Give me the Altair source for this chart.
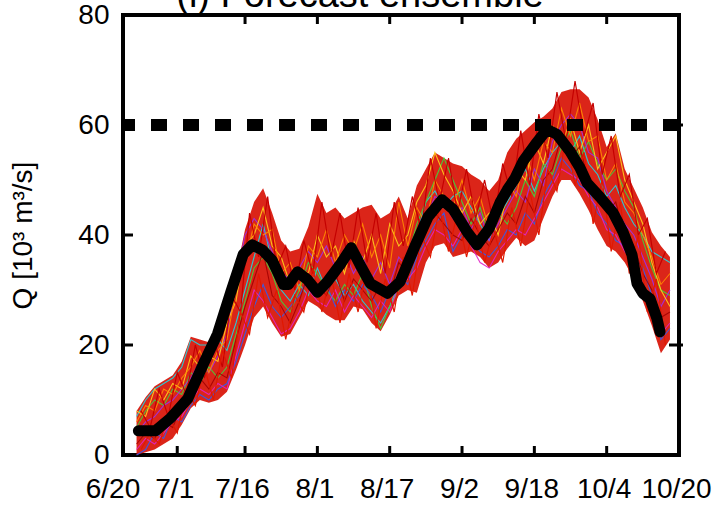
import altair as alt
import pandas as pd

FONT = "Liberation Sans"

# ---------------- data ----------------
# x axis: days after 6/20
tick_days = [0, 11, 26, 42, 58, 74, 90, 106, 122]
tick_labels = ["6/20", "7/1", "7/16", "8/1", "8/17", "9/2", "9/18", "10/4", "10/20"]
y_tick_values = [0, 20, 40, 60, 80]
inner_y_ticks = [20, 40, 60]
threshold_q = [60]
title_text = "(i) Forecast ensemble"
y_title = "Q [10\u00b3 m\u00b3/s]"

# observed discharge (thick black line)
obs_days = [2.4, 6.2, 9.5, 13.3, 16.8, 19.9, 22.8, 25.6, 27.6, 29.8, 32.0, 34.5, 35.6,
            37.6, 39.8, 42.0, 44.2, 47.1, 49.5, 51.5, 53.7, 57.5, 60.3, 63.6, 66.5,
            69.6, 72.0, 75.1, 77.3, 80.0, 82.4, 84.0, 85.7, 87.5, 90.6, 92.8, 95.0,
            97.9, 100.1, 101.7, 104.5, 107.4, 109.6, 111.6, 112.7, 114.0, 115.6,
            117.1, 117.8]
obs_q = [4.4, 4.4, 6.7, 10.2, 16.6, 22.0, 29.5, 36.5, 38.2, 37.3, 35.4, 31.0, 31.0,
         33.3, 31.9, 29.6, 31.5, 34.7, 37.7, 34.5, 31.2, 29.4, 31.5, 38.0, 43.3,
         46.4, 44.7, 40.6, 38.2, 41.2, 45.9, 48.2, 50.3, 53.4, 56.9, 59.2, 58.3,
         55.2, 52.2, 49.4, 46.9, 44.1, 40.6, 36.4, 31.2, 29.4, 28.4, 24.9, 22.4]

# forecast ensemble spread (sampled every 2 days)
ens_days = list(range(2, 122, 2))
ens_lower = [0, 0.5, 1, 2, 3, 5.5, 8.5, 10, 9.5, 10,
             11.5, 15.5, 20, 25, 27, 24, 21.5, 22, 25, 28,
             27, 25.5, 24.5, 24.5, 27, 26.5, 24, 22.5, 25.5, 29,
             30, 29.5, 35, 38, 38.5, 36, 36.5, 37, 36, 34,
             35, 37.5, 39.5, 38, 39, 43, 47, 50, 50, 47.5,
             44.5, 41, 38, 37, 35, 32, 28, 23.5, 18.5, 21]
ens_upper = [8, 10.5, 12.5, 13.5, 14.5, 17, 21.5, 21, 20.5, 22,
             27, 33, 41, 46, 48.5, 44, 39, 37, 37.5, 41.5,
             47.5, 44, 45, 43, 44, 45, 45.5, 43, 44, 47,
             43, 49, 52, 55, 54, 53, 52.5, 51, 50, 48,
             50, 55, 57.5, 59, 60.5, 61.5, 63, 66, 66.5, 66.5,
             65, 61, 56, 58.5, 52, 48.5, 45, 40.5, 38, 36]

# individual members (every 2 days)
member_orange = [6, 9, 8, 12, 11, 14, 16, 19, 15, 19,
                 21, 30, 35, 42, 40, 41, 33, 35, 30, 38,
                 36, 41, 35, 40, 37, 42, 36, 40, 34, 46,
                 38, 45, 42, 50, 47, 45, 50, 44, 47, 41,
                 46, 50, 47, 55, 50, 57, 55, 63, 58, 64,
                 57, 58, 50, 53, 46, 44, 40, 36, 31, 33]
member_yellow = [8, 7, 12, 10, 13, 12, 18, 16, 18, 17,
                 24, 28, 38, 40, 45, 38, 36, 31, 34, 33,
                 40, 36, 38, 33, 39, 35, 40, 33, 42, 38,
                 40, 46, 49, 55, 51, 48, 44, 47, 42, 44,
                 40, 48, 52, 50, 57, 53, 60, 56, 61, 55,
                 60, 52, 55, 58, 50, 46, 42, 35, 30, 27]
member_darkred = [2, 4, 3, 6, 5, 9, 11, 14, 12, 15,
                  14, 21, 27, 32, 37, 29, 27, 24, 28, 33,
                  31, 29, 33, 28, 32, 30, 28, 31, 29, 35,
                  33, 38, 41, 44, 42, 40, 39, 43, 40, 38,
                  41, 44, 42, 47, 44, 50, 52, 58, 54, 56,
                  50, 48, 44, 46, 40, 38, 33, 30, 25, 26]
member_cyan = [7, 10, 12, 13, 14, 16, 21, 20, 20, 21,
               19, 24, 30, 36, 42, 35, 30, 28, 31, 29,
               34, 30, 32, 29, 31, 28, 26, 24, 27, 31,
               35, 40, 46, 48, 45, 47, 48, 45, 42, 39,
               43, 46, 49, 52, 48, 52, 55, 57, 55, 58,
               53, 51, 47, 49, 45, 42, 40, 37, 36, 35]
member_green = [5, 8, 10, 9, 12, 11, 15, 13, 16, 14,
                16, 22, 28, 34, 36, 33, 28, 26, 30, 35,
                33, 30, 28, 31, 29, 33, 27, 23, 27, 30,
                36, 42, 46, 50, 54, 50, 46, 42, 45, 40,
                44, 42, 45, 50, 47, 53, 51, 56, 59, 54,
                57, 53, 50, 52, 48, 45, 39, 34, 30, 29]
member_magenta = [1, 3, 2, 4, 6, 7, 10, 12, 11, 13,
                  12, 18, 24, 30, 28, 25, 22, 23, 26, 30,
                  28, 27, 30, 26, 29, 27, 25, 28, 26, 31,
                  32, 34, 38, 41, 40, 38, 41, 38, 35, 34,
                  37, 39, 41, 40, 43, 46, 49, 52, 51, 50,
                  47, 45, 41, 40, 37, 35, 31, 27, 22, 24]
member_blue = [0, 1, 4, 3, 7, 6, 9, 11, 10, 12,
               13, 17, 22, 27, 31, 27, 25, 27, 29, 32,
               29, 31, 27, 30, 28, 31, 29, 26, 30, 33,
               31, 36, 39, 42, 44, 37, 40, 39, 37, 36,
               38, 41, 40, 44, 42, 47, 50, 54, 52, 49,
               48, 44, 42, 39, 38, 36, 34, 29, 21, 23]
member_purple = [4, 6, 7, 9, 10, 12, 14, 17, 15, 18,
                 22, 32, 40, 43, 41, 37, 33, 32, 34, 37,
                 35, 38, 34, 37, 33, 36, 32, 35, 31, 36,
                 34, 39, 43, 47, 46, 43, 45, 41, 44, 39,
                 42, 45, 48, 46, 52, 49, 57, 60, 62, 60,
                 55, 54, 48, 45, 42, 40, 36, 32, 27, 30]

# red members sampled on the odd days (3, 5, ..., 119)
odd_days = list(range(3, 121, 2))
member_red_a = [8, 5, 12, 7, 15, 11, 20, 14, 21, 16,
                29, 26, 44, 36, 47, 34, 38, 30, 39, 33,
                46, 36, 44, 34, 45, 35, 44, 33, 46, 38,
                47, 41, 54, 46, 54, 44, 52, 43, 50, 42,
                53, 47, 59, 49, 62, 54, 66, 57, 68, 58,
                64, 51, 58, 47, 51, 40, 43, 33, 37]
member_red_b = [1, 4, 2, 7, 4, 12, 9, 16, 10, 19,
                14, 26, 22, 33, 25, 30, 21, 29, 26, 34,
                26, 33, 24, 33, 26, 34, 23, 32, 26, 36,
                29, 40, 36, 45, 37, 44, 36, 43, 35, 41,
                35, 45, 38, 48, 40, 52, 48, 58, 49, 55,
                42, 50, 37, 46, 33, 40, 26, 32, 20]

members = {
    "cyan": member_cyan,
    "green": member_green,
    "blue": member_blue,
    "magenta": member_magenta,
    "purple": member_purple,
    "yellow": member_yellow,
    "orange": member_orange,
    "darkred": member_darkred,
}
odd_members = {"red_a": member_red_a, "red_b": member_red_b}
member_colors = {
    "cyan": "#19d9e6",
    "green": "#3cd63c",
    "blue": "#2f5cf0",
    "magenta": "#e023c4",
    "purple": "#9b30e8",
    "yellow": "#ffd21a",
    "orange": "#ff8a00",
    "darkred": "#a30000",
    "red_a": "#c40000",
    "red_b": "#e01800",
}

# ---------------- tables ----------------
band_df = pd.DataFrame({"day": ens_days, "lower": ens_lower, "upper": ens_upper})
rows = []
for name, vals in members.items():
    for k, (d, q) in enumerate(zip(ens_days, vals)):
        rows.append({"member": name, "day": d, "q": q, "k": k})
mem_df = pd.DataFrame(rows)
rows = []
for name, vals in odd_members.items():
    for k, (d, q) in enumerate(zip(odd_days, vals)):
        rows.append({"member": name, "day": d, "q": q, "k": k})
red_df = pd.DataFrame(rows)
obs_df = pd.DataFrame({"day": obs_days, "q": obs_q})
thr_df = pd.DataFrame({"q": threshold_q})
xtick_bottom_df = pd.DataFrame({"day": tick_days[1:-1]})
xtick_top_df = pd.DataFrame({"day": tick_days[2:-1]})
ytick_df = pd.DataFrame({"q": inner_y_ticks})
title_df = pd.DataFrame({"t": [title_text]})

label_expr = " : ".join(
    f"datum.value == {d} ? '{lab}'" for d, lab in zip(tick_days, tick_labels)
) + " : ''"

x_scale = alt.Scale(domain=[-1, 122], nice=False, zero=False)
y_scale = alt.Scale(domain=[0, 80], nice=False, zero=False)
color_scale = alt.Scale(domain=list(member_colors.keys()),
                        range=list(member_colors.values()))

x_axis = alt.Axis(
    values=tick_days, labelExpr=label_expr, title=None, grid=False, domain=False,
    ticks=False, labelFont=FONT, labelFontSize=28, labelColor="black",
    labelPadding=20, labelFlush=False, labelOverlap=False,
    labelOffset={"condition": {"test": "datum.value == 0", "value": -15}, "value": -3},
)
y_axis = alt.Axis(
    values=y_tick_values, title=y_title, grid=False, domain=False, ticks=False,
    labelFont=FONT, labelFontSize=28, labelColor="black", labelPadding=14,
    titleFont=FONT, titleFontSize=28, titleFontWeight="normal", titleColor="black",
    titlePadding=40,
)


def X(field="day"):
    return alt.X(f"{field}:Q", scale=x_scale, axis=x_axis)


def Y(field="q"):
    return alt.Y(f"{field}:Q", scale=y_scale, axis=y_axis)


band = alt.Chart(band_df).mark_area(
    color="#d70d00", opacity=0.9, interpolate="linear"
).encode(x=X(), y=Y("lower"), y2="upper:Q")

member_lines = alt.Chart(mem_df).mark_line(strokeWidth=1.1, opacity=0.9).encode(
    x=X(), y=Y(),
    color=alt.Color("member:N", legend=None, scale=color_scale),
    order="k:Q",
)

red_lines = alt.Chart(red_df).mark_line(strokeWidth=1.2).encode(
    x=X(), y=Y(),
    color=alt.Color("member:N", legend=None, scale=color_scale),
    order="k:Q",
)

threshold = alt.Chart(thr_df).mark_rule(
    color="black", strokeWidth=12, strokeDash=[16, 16]
).encode(y=Y())

obs_line = alt.Chart(obs_df).mark_line(
    color="black", strokeWidth=11, strokeJoin="round", strokeCap="round"
).encode(x=X(), y=Y())

tick_bottom = alt.Chart(xtick_bottom_df).mark_rule(color="black", strokeWidth=3).encode(
    x=X(), y=alt.value(440), y2=alt.value(431))
tick_top = alt.Chart(xtick_top_df).mark_rule(color="black", strokeWidth=3).encode(
    x=X(), y=alt.value(0), y2=alt.value(9))
tick_left = alt.Chart(ytick_df).mark_rule(color="black", strokeWidth=3).encode(
    y=Y(), x=alt.value(0), x2=alt.value(10))
tick_right = alt.Chart(ytick_df).mark_rule(color="black", strokeWidth=3).encode(
    y=Y(), x=alt.value(546), x2=alt.value(560))

title = alt.Chart(title_df).mark_text(
    font=FONT, fontSize=38, color="black", align="center", baseline="alphabetic"
).encode(text="t:N", x=alt.value(237), y=alt.value(-8))

chart = alt.layer(
    band, member_lines, red_lines, threshold, obs_line,
    tick_bottom, tick_top, tick_left, tick_right, title,
).properties(
    width=556, height=440,
    autosize=alt.AutoSizeParams(type="none"),
    padding={"left": 123, "top": 15, "right": 47, "bottom": 50},
    background="white",
).configure_view(stroke="black", strokeWidth=4)

chart.save("out.html", embed_options={"renderer": "svg", "actions": False})
